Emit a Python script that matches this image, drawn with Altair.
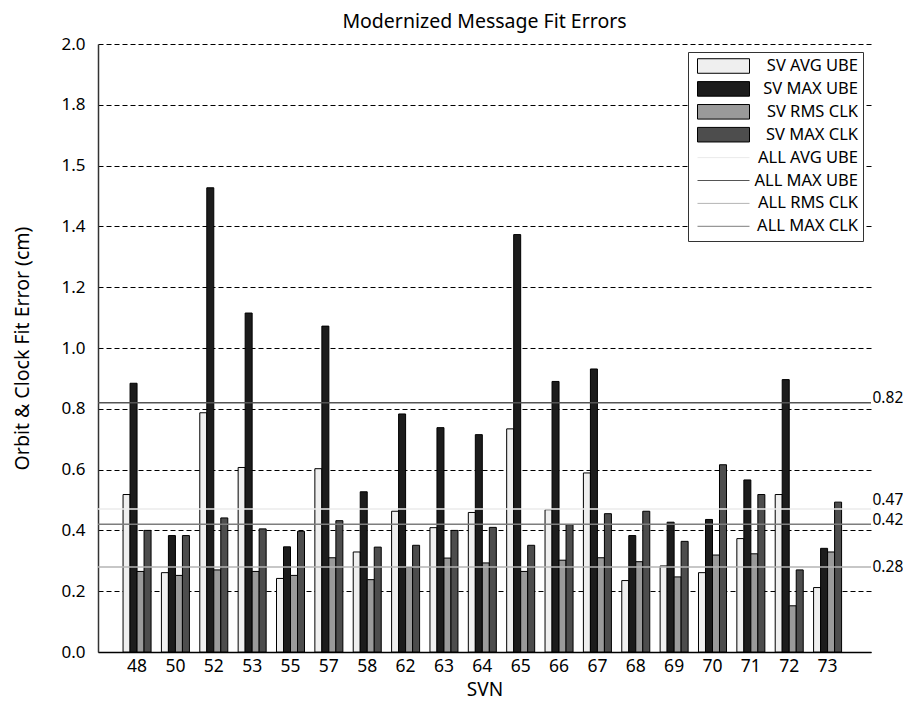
import altair as alt
import pandas as pd

FONT = "Noto Sans"

svn = ["48", "50", "52", "53", "55", "57", "58", "62", "63", "64",
       "65", "66", "67", "68", "69", "70", "71", "72", "73"]
series_bar = ["SV AVG UBE", "SV MAX UBE", "SV RMS CLK", "SV MAX CLK"]
series_line = ["ALL AVG UBE", "ALL MAX UBE", "ALL RMS CLK", "ALL MAX CLK"]

avg_ube = [0.518, 0.261, 0.787, 0.607, 0.242, 0.603, 0.329, 0.463, 0.409, 0.459,
           0.734, 0.468, 0.589, 0.235, 0.283, 0.261, 0.373, 0.518, 0.212]
max_ube = [0.884, 0.383, 1.527, 1.115, 0.346, 1.072, 0.527, 0.783, 0.738, 0.715,
           1.373, 0.890, 0.931, 0.383, 0.427, 0.436, 0.566, 0.896, 0.341]
rms_clk = [0.265, 0.252, 0.270, 0.265, 0.252, 0.310, 0.238, 0.278, 0.309, 0.293,
           0.265, 0.302, 0.310, 0.297, 0.247, 0.319, 0.323, 0.152, 0.329]
max_clk = [0.400, 0.383, 0.441, 0.405, 0.397, 0.432, 0.345, 0.351, 0.400, 0.410,
           0.351, 0.419, 0.455, 0.463, 0.364, 0.616, 0.518, 0.270, 0.493]

all_values = [0.47, 0.82, 0.28, 0.42]

y_tick_values = [0.0, 0.2, 0.4, 0.6, 0.8, 1.0, 1.2, 1.4, 1.6, 1.8, 2.0]
y_tick_labels = ["0.0", "0.2", "0.4", "0.6", "0.8", "1.0", "1.2", "1.4", "1.5", "1.8", "2.0"]

bar_fill = ["#efefef", "#1c1c1c", "#9a9a9a", "#4d4d4d"]
line_color = ["#ebebeb", "#555555", "#b4b4b4", "#7d7d7d"]

# ---- tables ----
rows = []
for s, vals in zip(series_bar, [avg_ube, max_ube, rms_clk, max_clk]):
    for k, v in zip(svn, vals):
        rows.append({"svn": k, "series": s, "value": v})
bar_df = pd.DataFrame(rows)
line_df = pd.DataFrame({"series": series_line, "value": all_values})

all_series = series_bar + series_line
fill_scale = alt.Scale(domain=all_series, range=bar_fill + ["transparent"] * 4)
stroke_scale = alt.Scale(domain=all_series, range=["black"] * 4 + line_color)
y_scale = alt.Scale(domain=[0, 2], nice=False, zero=True)

line_js = "[" + ",".join("'%s'" % s for s in series_line) + "]"
label_js = "[" + ",".join("'%s'" % s for s in y_tick_labels) + "]"

legend = alt.Legend(
    title=None, orient="none", legendX=590, legendY=8,
    symbolType={"expr": "indexof(%s, datum.value) >= 0 ? 'stroke' : 'M-1,-0.28H1V0.28H-1Z'" % line_js},
    symbolSize=2704, clipHeight=18, rowPadding=4.9, padding=5, symbolOffset=4,
    labelAlign="right", labelOffset=108, labelFontSize=16.5, labelFont=FONT,
    labelColor="black", labelLimit=300,
    strokeColor="#333333", fillColor="white",
    symbolFillColor="white", symbolStrokeColor="black", symbolStrokeWidth=1,
)

bars = alt.Chart(bar_df).mark_bar(strokeWidth=1).encode(
    x=alt.X("svn:N", sort=svn,
            scale=alt.Scale(paddingInner=0.27, paddingOuter=0.71, align=0.46),
            axis=alt.Axis(title="SVN", labelAngle=0, ticks=False, grid=False,
                          domainColor="black", domainWidth=1.5,
                          labelFontSize=17.5, labelPadding=5, labelColor="black",
                          titleFontSize=19, titleFontWeight="normal", titlePadding=6,
                          titleColor="black")),
    xOffset=alt.XOffset("series:N", sort=series_bar,
                        scale=alt.Scale(domain=series_bar, paddingInner=0, paddingOuter=0)),
    y=alt.Y("value:Q", scale=y_scale,
            axis=alt.Axis(title="Orbit & Clock Fit Error (cm)", values=y_tick_values,
                          labelExpr=label_js + "[round(datum.value*5)]",
                          ticks=False, tickSize=0, domainColor="#333333", domainWidth=1.5,
                          grid=True, gridDash=[5, 3], gridColor="black", gridWidth=1,
                          labelFontSize=17, labelPadding=13, labelColor="black",
                          titleFontSize=19.5, titleFontWeight="normal", titlePadding=28,
                          titleColor="black")),
    fill=alt.Fill("series:N", scale=fill_scale, legend=legend),
    stroke=alt.Stroke("series:N", scale=stroke_scale, legend=legend),
)

lines = alt.Chart(line_df).mark_rule(strokeWidth=1.5).encode(
    y=alt.Y("value:Q", scale=y_scale,
            axis=alt.Axis(orient="right", values=all_values, format=".2f",
                          domain=False, ticks=False, grid=False, title=None,
                          labelFontSize=15.5, labelPadding=1, labelColor="black",
                          labelOverlap=False,
                          labelBaseline={"condition": {"test": "datum.value > 0.3", "value": "alphabetic"},
                                         "value": "middle"},
                          labelOffset={"condition": {"test": "datum.value > 0.45 && datum.value < 0.5", "value": -5},
                                       "value": 0})),
    stroke=alt.Stroke("series:N", scale=stroke_scale, legend=legend),
)

chart = alt.layer(bars, lines).resolve_axis(y="independent").properties(
    width=773, height=608,
    autosize="none",
    padding={"left": 90, "top": 36, "right": 32, "bottom": 52},
    title=alt.TitleParams("Modernized Message Fit Errors", fontSize=19.5, font=FONT,
                          fontWeight="normal", offset=3, anchor="middle", color="black"),
).configure(font=FONT).configure_view(stroke=None)

chart.save("out.html", embed_options={"renderer": "svg", "actions": False})
